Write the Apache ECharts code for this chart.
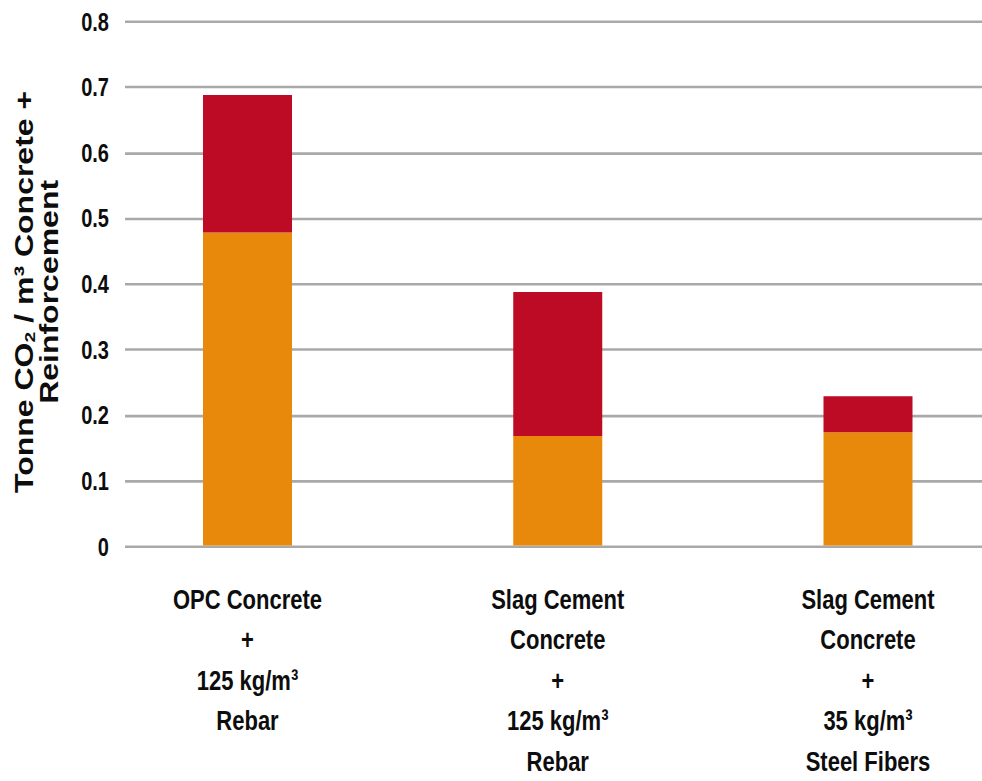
<!DOCTYPE html>
<html>
<head>
<meta charset="utf-8">
<script src="https://cdn.jsdelivr.net/npm/echarts@6/dist/echarts.min.js"></script>
<style>
  html, body { margin: 0; padding: 0; background: #fff; overflow: hidden; }
  #wrap { width: 982px; height: 781px; overflow: hidden; }
  /* chart is laid out at 610px tall and stretched to fill the 781px page */
  #chart { width: 982px; height: 610px; transform: scaleY(1.280328); transform-origin: 0 0; }
</style>
</head>
<body>
<div id="wrap"><div id="chart"></div></div>
<script>
// Mix designs shown along the horizontal axis
const categories = [
  'OPC Concrete\n+\n125 kg/m³\nRebar',
  'Slag Cement\nConcrete\n+\n125 kg/m³\nRebar',
  'Slag Cement\nConcrete\n+\n35 kg/m³\nSteel Fibers'
];
// Tonnes of CO2 per m³ from the concrete itself (lower, orange segment)
const concreteCO2 = [0.478, 0.167, 0.173];
// Tonnes of CO2 per m³ from the reinforcement (upper, red segment)
const reinforcementCO2 = [0.21, 0.22, 0.055];
// Value-axis ticks
const yTickValues = [0, 0.1, 0.2, 0.3, 0.4, 0.5, 0.6, 0.7, 0.8];
const yTickLabels = ['0', '0.1', '0.2', '0.3', '0.4', '0.5', '0.6', '0.7', '0.8'];

const FONT = '"Liberation Sans", Arial, sans-serif';
const INK = '#0d0d0d';
const Y_MIN = yTickValues[0];
const Y_MAX = yTickValues[yTickValues.length - 1];
const PLOT_TOP = 16.95;
const PLOT_BOTTOM = 183;

const chart = echarts.init(document.getElementById('chart'), null, { renderer: 'svg' });

chart.setOption({
  animation: false,
  backgroundColor: '#ffffff',
  grid: [
    // grid 0: horizontal rules, tick labels and axis title
    { left: 125, right: 0, top: PLOT_TOP, bottom: PLOT_BOTTOM },
    // grid 1: bars sit on the tick points, first and last category at the grid edges
    { left: 247.5, right: 114, top: PLOT_TOP, bottom: PLOT_BOTTOM }
  ],
  xAxis: [
    {
      gridIndex: 0,
      type: 'value',
      show: false
    },
    {
      gridIndex: 1,
      type: 'category',
      boundaryGap: false,
      data: categories,
      axisLine: { show: false },
      axisTick: { show: false },
      splitLine: { show: false },
      axisLabel: {
        interval: 0,
        fontFamily: FONT,
        fontSize: 22,
        fontWeight: 'bold',
        color: INK,
        lineHeight: 31.6,
        margin: 26,
        align: 'center'
      }
    }
  ],
  yAxis: [
    {
      gridIndex: 0,
      type: 'value',
      min: Y_MIN,
      max: Y_MAX,
      interval: 0.1,
      axisLine: { show: false },
      axisTick: { show: false },
      splitLine: { lineStyle: { color: '#a9a9a9', width: 2 } },
      axisLabel: {
        formatter: (v) => yTickLabels[Math.round(v * 10)],
        fontFamily: FONT,
        fontSize: 20,
        fontWeight: 'bold',
        color: INK,
        margin: 16
      },
      name: 'Tonne CO{sub|2} / m³ Concrete +\nReinforcement',
      nameLocation: 'middle',
      nameRotate: 90,
      nameGap: 63,
      nameTextStyle: {
        fontFamily: FONT,
        fontSize: 25,
        fontWeight: 'bold',
        lineHeight: 25,
        color: INK,
        padding: [0, 12, 0, 0],
        rich: {
          sub: {
            fontFamily: FONT,
            fontSize: 15,
            fontWeight: 'bold',
            color: INK,
            padding: [10, 0, 0, 0]
          }
        }
      }
    },
    {
      gridIndex: 1,
      type: 'value',
      min: Y_MIN,
      max: Y_MAX,
      interval: 0.1,
      show: false,
      splitLine: { show: false }
    }
  ],
  series: [
    {
      name: 'Concrete',
      type: 'bar',
      xAxisIndex: 1,
      yAxisIndex: 1,
      stack: 'total',
      barWidth: 89,
      clip: false,
      itemStyle: { color: '#E8890B' },
      data: concreteCO2
    },
    {
      name: 'Reinforcement',
      type: 'bar',
      xAxisIndex: 1,
      yAxisIndex: 1,
      stack: 'total',
      barWidth: 89,
      clip: false,
      itemStyle: { color: '#BD0A25' },
      data: reinforcementCO2
    }
  ]
});
</script>
</body>
</html>
